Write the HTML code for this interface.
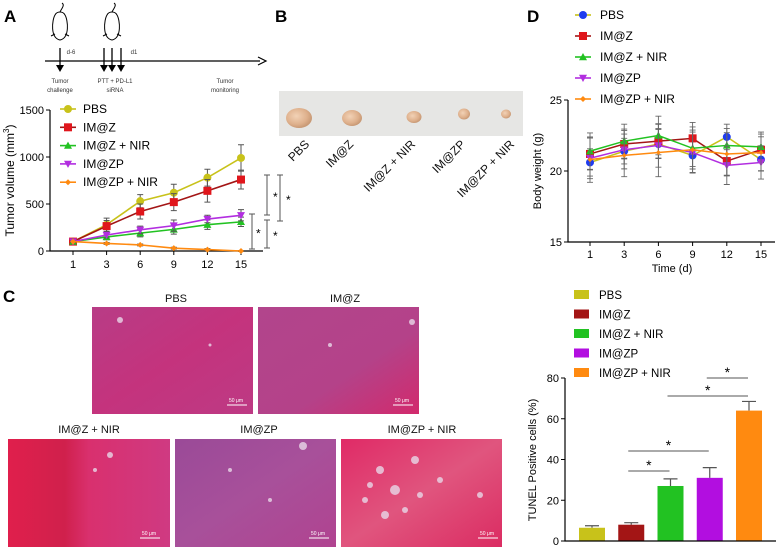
<!DOCTYPE html>
<html><head><meta charset="utf-8"><style>
html,body{margin:0;padding:0;background:#fff}
svg{display:block;font-family:"Liberation Sans",Arial,sans-serif}
</style></head><body>
<svg id="fig" width="784" height="549" viewBox="0 0 784 549" xmlns="http://www.w3.org/2000/svg">
<defs>
<radialGradient id="tum" cx="40%" cy="40%" r="60%"><stop offset="0" stop-color="#f2d2b6"/><stop offset="0.7" stop-color="#deb08c"/><stop offset="1" stop-color="#c99a76"/></radialGradient>
<linearGradient id="h1" x1="0" y1="0" x2="1" y2="1"><stop offset="0" stop-color="#b83c86"/><stop offset="0.5" stop-color="#c4337d"/><stop offset="1" stop-color="#bd3a84"/></linearGradient>
<linearGradient id="h2" x1="0" y1="0" x2="1" y2="1"><stop offset="0" stop-color="#b2458c"/><stop offset="0.6" stop-color="#b44289"/><stop offset="1" stop-color="#d22a6c"/></linearGradient>
<linearGradient id="h3" x1="0" y1="0" x2="1" y2="0"><stop offset="0" stop-color="#e01f4c"/><stop offset="0.35" stop-color="#d0204c"/><stop offset="0.5" stop-color="#d9306e"/><stop offset="1" stop-color="#cf3a82"/></linearGradient>
<linearGradient id="h4" x1="0" y1="0" x2="1" y2="1"><stop offset="0" stop-color="#9a4a98"/><stop offset="0.5" stop-color="#a8509a"/><stop offset="1" stop-color="#b04390"/></linearGradient>
<linearGradient id="h5" x1="0" y1="0" x2="1" y2="1"><stop offset="0" stop-color="#e02a66"/><stop offset="0.5" stop-color="#e0557e"/><stop offset="1" stop-color="#db2c62"/></linearGradient>
</defs>

<text x="4" y="22" font-size="17" font-weight="bold">A</text>
<text x="275" y="22" font-size="17" font-weight="bold">B</text>
<text x="3" y="302" font-size="17" font-weight="bold">C</text>
<text x="527" y="22" font-size="17" font-weight="bold">D</text>

<g stroke="#000" fill="none">
  <g stroke-width="1">
    <path d="M60,40 C50,38 52,20 55,15 C57,11 63,11 65,15 C68,20 70,38 60,40 Z"/>
    <path d="M60,12 C62,8 65,5 62,3"/><path d="M55,34 l-4,2 M65,34 l4,2"/>
  </g>
  <g stroke-width="1">
    <path d="M112,40 C102,38 104,20 107,15 C109,11 115,11 117,15 C120,20 122,38 112,40 Z"/>
    <path d="M112,12 C114,8 117,5 114,3"/><path d="M107,34 l-4,2 M117,34 l4,2"/>
  </g>
  <line x1="45" y1="61" x2="260" y2="61" stroke-width="1.2"/>
  <path d="M258,57 L266,61 L258,65" stroke-width="1.2"/>
  <g stroke-width="1.3">
    <line x1="60" y1="48" x2="60" y2="70"/><line x1="104" y1="48" x2="104" y2="70"/><line x1="112" y1="48" x2="112" y2="70"/><line x1="121" y1="48" x2="121" y2="70"/>
  </g>
  <g fill="#000" stroke="none">
    <path d="M56,65 L64,65 L60,72 Z"/><path d="M100,65 L108,65 L104,72 Z"/><path d="M108,65 L116,65 L112,72 Z"/><path d="M117,65 L125,65 L121,72 Z"/>
  </g>
</g>
<g font-size="6" fill="#333" text-anchor="middle">
  <text x="71" y="54">d-6</text><text x="134" y="54">d1</text>
  <text x="60" y="83">Tumor</text><text x="60" y="92">challenge</text>
  <text x="115" y="83">PTT + PD-L1</text><text x="115" y="92">siRNA</text>
  <text x="225" y="83">Tumor</text><text x="225" y="92">monitoring</text>
</g>

<g id="chartA"></g>
<g id="chartD"></g>
<g id="chartE"></g>

<g>
  <rect x="279" y="91" width="244" height="45" fill="#e6e6e4"/>
  <ellipse cx="299" cy="118" rx="13" ry="10" fill="url(#tum)"/>
  <ellipse cx="352" cy="118" rx="10" ry="8" fill="url(#tum)"/>
  <ellipse cx="414" cy="117" rx="7.5" ry="6" fill="url(#tum)"/>
  <ellipse cx="464" cy="114" rx="6" ry="5.5" fill="url(#tum)"/>
  <ellipse cx="506" cy="114" rx="5" ry="4.5" fill="url(#tum)"/>
</g>
<g font-size="12" fill="#111" text-anchor="end">
  <text transform="translate(310,145) rotate(-45)">PBS</text>
  <text transform="translate(354,145) rotate(-45)">IM@Z</text>
  <text transform="translate(416,145) rotate(-45)">IM@Z + NIR</text>
  <text transform="translate(466,145) rotate(-45)">IM@ZP</text>
  <text transform="translate(515,145) rotate(-45)">IM@ZP + NIR</text>
</g>

<g font-size="11" fill="#111" text-anchor="middle">
  <text x="176" y="302">PBS</text><text x="345" y="302">IM@Z</text>
  <text x="89" y="433">IM@Z + NIR</text><text x="259" y="433">IM@ZP</text><text x="422" y="433">IM@ZP + NIR</text>
</g>
<g>
  <rect x="92" y="307" width="161" height="107" fill="url(#h1)"/>
  <rect x="258" y="307" width="161" height="107" fill="url(#h2)"/>
  <rect x="8" y="439" width="162" height="108" fill="url(#h3)"/>
  <rect x="175" y="439" width="161" height="108" fill="url(#h4)"/>
  <rect x="341" y="439" width="161" height="108" fill="url(#h5)"/>
  <g fill="#e8d8e8" opacity="0.8">
    <circle cx="120" cy="320" r="3"/><circle cx="210" cy="345" r="1.5"/><circle cx="412" cy="322" r="3"/><circle cx="330" cy="345" r="2"/>
    <circle cx="110" cy="455" r="3"/><circle cx="95" cy="470" r="2"/><circle cx="303" cy="446" r="4"/><circle cx="230" cy="470" r="2"/><circle cx="270" cy="500" r="2"/>
    <circle cx="380" cy="470" r="4"/><circle cx="395" cy="490" r="5"/><circle cx="365" cy="500" r="3"/><circle cx="415" cy="460" r="4"/><circle cx="405" cy="510" r="3"/><circle cx="385" cy="515" r="4"/><circle cx="420" cy="495" r="3"/><circle cx="440" cy="480" r="3"/><circle cx="370" cy="485" r="3"/><circle cx="480" cy="495" r="3"/>
  </g>
  <g stroke="#fff" stroke-width="1" font-size="5" fill="#fff">
    <line x1="227" y1="405" x2="247" y2="405"/><text x="229" y="402" stroke="none">50 μm</text>
    <line x1="393" y1="405" x2="413" y2="405"/><text x="395" y="402" stroke="none">50 μm</text>
    <line x1="140" y1="538" x2="160" y2="538"/><text x="142" y="535" stroke="none">50 μm</text>
    <line x1="309" y1="538" x2="329" y2="538"/><text x="311" y="535" stroke="none">50 μm</text>
    <line x1="478" y1="538" x2="498" y2="538"/><text x="480" y="535" stroke="none">50 μm</text>
  </g>
</g>

<script>
const NS="http://www.w3.org/2000/svg";
function mk(parent,tag,attrs){const e=document.createElementNS(NS,tag);for(const k in attrs)e.setAttribute(k,attrs[k]);parent.appendChild(e);return e;}

const aDays=["1","3","6","9","12","15"];
const aTicks=[0,500,1000,1500];
const aNames=["PBS","IM@Z","IM@Z + NIR","IM@ZP","IM@ZP + NIR"];
const aPBS=[100,280,530,620,780,990];
const aIMZ=[100,265,420,520,640,760];
const aIMZN=[100,150,190,230,280,310];
const aIMZP=[100,170,225,270,340,380];
const aIMZPN=[100,80,65,30,15,0];
const aErr=[[10,70,70,90,90,140],[10,60,80,90,120,100],[10,30,40,50,50,50],[10,30,40,60,40,60],[5,10,10,10,10,5]];

const dTicks=[15,20,25];
const dPBS=[20.6,21.4,21.9,21.1,22.4,20.8];
const dIMZ=[21.2,21.9,22.1,22.3,20.7,21.5];
const dIMZN=[21.4,22.1,22.5,21.6,21.8,21.7];
const dIMZP=[20.9,21.5,21.8,21.3,20.4,20.6];
const dIMZPN=[20.8,21.1,21.3,21.5,21.2,21.3];
const dErr=[1.6,1.5,1.7,1.6,1.5,1.3];

const eNames=["PBS","IM@Z","IM@Z + NIR","IM@ZP","IM@ZP + NIR"];
const eVals=[6.5,8,27,31,64];
const eErr=[1,1,3.5,5,4.5];
const eTicks=[0,20,40,60,80];

const colsA=["#c8c21a","#e0161c","#22c222","#b22ee0","#ff8a10"];
const lineA=["#c8c21a","#a31515","#22c222","#b22ee0","#ff8a10"];
const mkA=["circle","square","tri","tridown","diamond"];

function marker(g,type,x,y,c,s){
  let e;
  if(type=="circle")e=mk(g,"circle",{cx:x,cy:y,r:s,fill:c});
  else if(type=="square")e=mk(g,"rect",{x:x-s,y:y-s,width:2*s,height:2*s,fill:c});
  else if(type=="tri")e=mk(g,"path",{d:`M${x},${y-s} L${x+s},${y+s*0.8} L${x-s},${y+s*0.8}Z`,fill:c});
  else if(type=="tridown")e=mk(g,"path",{d:`M${x},${y+s} L${x+s},${y-s*0.8} L${x-s},${y-s*0.8}Z`,fill:c});
  else e=mk(g,"path",{d:`M${x},${y-s} L${x+s},${y} L${x},${y+s} L${x-s},${y}Z`,fill:c});
  
  
  return e;
}

(function(){
  const g=document.getElementById("chartA");
  const x0=50,x1=263,yTop=110,yBot=251;
  const xs=i=>73+i*(241-73)/(aDays.length-1);
  const ys=v=>yBot-(v/1500)*(yBot-yTop);
  const ax=mk(g,"path",{d:`M${x0},${yTop} L${x0},${yBot} L${x1},${yBot}`,stroke:"#000","stroke-width":1.2,fill:"none"});
  
  
  aTicks.forEach(t=>{const y=ys(t);mk(g,"line",{x1:x0-4,y1:y,x2:x0,y2:y,stroke:"#000"});
    const tx=mk(g,"text",{x:x0-6,y:y+4,"font-size":11,"text-anchor":"end"});tx.textContent=t;
    
    });
  aDays.forEach((d,i)=>{const x=xs(i);mk(g,"line",{x1:x,y1:yBot,x2:x,y2:yBot+4,stroke:"#000"});
    const tx=mk(g,"text",{x:x,y:yBot+17,"font-size":11,"text-anchor":"middle"});tx.textContent=d;
    
    });
  const yl=mk(g,"text",{transform:`translate(14,${(yTop+yBot)/2}) rotate(-90)`,"font-size":12,"text-anchor":"middle"});
  
  
  const t1=mk(yl,"tspan",{});t1.textContent="Tumor volume (mm";
  const t2=mk(yl,"tspan",{"font-size":8,dy:-5});t2.textContent="3";
  const t3=mk(yl,"tspan",{dy:5});t3.textContent=")";
  const series=[aPBS,aIMZ,aIMZN,aIMZP,aIMZPN];
  series.forEach((s,k)=>{
    const sg=mk(g,"g",{});
    
    
    s.forEach((v,i)=>{const e=aErr[k][i];mk(sg,"path",{d:`M${xs(i)},${ys(v-e)}V${ys(v+e)}M${xs(i)-3},${ys(v+e)}h6M${xs(i)-3},${ys(v-e)}h6`,stroke:"#555","stroke-width":1,fill:"none"});});
    mk(sg,"polyline",{points:s.map((v,i)=>xs(i)+","+ys(v)).join(" "),stroke:lineA[k],"stroke-width":1.6,fill:"none"});
    s.forEach((v,i)=>marker(sg,mkA[k],xs(i),ys(v),colsA[k],k==4?3:4));
  });
  aNames.forEach((n,k)=>{const y=109+k*18.3;
    const lg=mk(g,"g",{});
    
    
    mk(lg,"line",{x1:60,y1:y,x2:76,y2:y,stroke:lineA[k],"stroke-width":1.6});
    marker(lg,mkA[k],68,y,colsA[k],k==4?3:4);
    const t=mk(lg,"text",{x:83,y:y+4,"font-size":12});t.textContent=n;});
  const br=[[267,175,215,273],[280,175,221,286],[252,214,249,256],[267,220,248,273]];
  br.forEach(b=>{const p=mk(g,"path",{d:`M${b[0]-3},${b[1]}h6M${b[0]},${b[1]}V${b[2]}M${b[0]-3},${b[2]}h6`,stroke:"#555","stroke-width":1,fill:"none"});
    
    
    const t=mk(g,"text",{x:b[3],y:(b[1]+b[2])/2+6,"font-size":12});t.textContent="*";});
})();

(function(){
  const g=document.getElementById("chartD");
  const x0=568,x1=775,yTop=100,yBot=242;
  const xs=i=>590+i*(761-590)/(aDays.length-1);
  const ys=v=>yBot-((v-15)/10)*(yBot-yTop);
  const ax=mk(g,"path",{d:`M${x0},${yTop} L${x0},${yBot} L${x1},${yBot}`,stroke:"#000","stroke-width":1.2,fill:"none"});
  
  
  dTicks.forEach(t=>{const y=ys(t);mk(g,"line",{x1:x0-4,y1:y,x2:x0,y2:y,stroke:"#000"});
    const tx=mk(g,"text",{x:x0-6,y:y+4,"font-size":11,"text-anchor":"end"});tx.textContent=t;
    
    });
  aDays.forEach((d,i)=>{const x=xs(i);mk(g,"line",{x1:x,y1:yBot,x2:x,y2:yBot+4,stroke:"#000"});
    const tx=mk(g,"text",{x:x,y:yBot+16,"font-size":11,"text-anchor":"middle"});tx.textContent=d;
    
    });
  const xl=mk(g,"text",{x:672,y:272,"font-size":11,"text-anchor":"middle"});xl.textContent="Time (d)";
  
  
  const yl=mk(g,"text",{transform:`translate(541,171) rotate(-90)`,"font-size":11,"text-anchor":"middle"});yl.textContent="Body weight (g)";
  
  
  const cD=["#1f3cf0","#e0161c","#22c222","#b22ee0","#ff8a10"];
  const lD=["#c8c21a","#a31515","#22c222","#b22ee0","#ff8a10"];
  const series=[dPBS,dIMZ,dIMZN,dIMZP,dIMZPN];
  series.forEach((s,k)=>{
    const sg=mk(g,"g",{});
    
    
    s.forEach((v,i)=>{const e=dErr[i]*(0.6+0.1*k);mk(sg,"path",{d:`M${xs(i)},${ys(v-e)}V${ys(v+e)}M${xs(i)-3},${ys(v+e)}h6M${xs(i)-3},${ys(v-e)}h6`,stroke:"#666","stroke-width":0.9,fill:"none"});});
    mk(sg,"polyline",{points:s.map((v,i)=>xs(i)+","+ys(v)).join(" "),stroke:lD[k],"stroke-width":1.5,fill:"none"});
    s.forEach((v,i)=>marker(sg,mkA[k],xs(i),ys(v),cD[k],k==4?2.5:4));
  });
  aNames.forEach((n,k)=>{const y=15+k*21;
    const lg=mk(g,"g",{});
    
    
    mk(lg,"line",{x1:575,y1:y,x2:591,y2:y,stroke:lD[k],"stroke-width":1.6});
    marker(lg,mkA[k],583,y,cD[k],k==4?3:4);
    const t=mk(lg,"text",{x:600,y:y+4,"font-size":12});t.textContent=n;});
})();

(function(){
  const g=document.getElementById("chartE");
  const x0=565,x1=776,yTop=378,yBot=541;
  const xs=i=>592+i*(749-592)/(eVals.length-1);
  const ys=v=>yBot-(v/80)*(yBot-yTop);
  const cE=["#c8c21a","#a31515","#22c222","#b20ee0","#ff8a10"];
  eVals.forEach((v,i)=>{const x=xs(i);
    const e=eErr[i];
    mk(g,"path",{d:`M${x},${ys(v)}V${ys(v+e)}M${x-7},${ys(v+e)}h14`,stroke:"#555","stroke-width":1.2,fill:"none"});
    const r=mk(g,"rect",{x:x-13,y:ys(v),width:26,height:yBot-ys(v),fill:cE[i]});
    
    });
  const ax=mk(g,"path",{d:`M${x0},${yTop} L${x0},${yBot} L${x1},${yBot}`,stroke:"#000","stroke-width":1.2,fill:"none"});
  
  
  eTicks.forEach(t=>{const y=ys(t);mk(g,"line",{x1:x0-4,y1:y,x2:x0,y2:y,stroke:"#000"});
    const tx=mk(g,"text",{x:x0-6,y:y+4,"font-size":11,"text-anchor":"end"});tx.textContent=t;
    
    });
  const yl=mk(g,"text",{transform:`translate(536,460) rotate(-90)`,"font-size":11,"text-anchor":"middle"});yl.textContent="TUNEL Positive cells (%)";
  
  
  eNames.forEach((n,k)=>{const y=295+k*19.5;
    const lg=mk(g,"g",{});
    
    
    mk(lg,"rect",{x:574,y:y-5,width:15,height:9,fill:cE[k]});
    const t=mk(lg,"text",{x:599,y:y+4,"font-size":11.5});t.textContent=n;});
  const sig=[[1,2,471],[1,3,451],[2,4,396],[3,4,378]];
  sig.forEach(s=>{const a=xs(s[0])-3,b=xs(s[1])-1;
    const l=mk(g,"line",{x1:a,y1:s[2],x2:b,y2:s[2],stroke:"#555","stroke-width":1});
    
    
    const t=mk(g,"text",{x:(a+b)/2,y:s[2]-1,"font-size":14,"text-anchor":"middle"});t.textContent="*";});
})();
</script>
</svg>
</body></html>
